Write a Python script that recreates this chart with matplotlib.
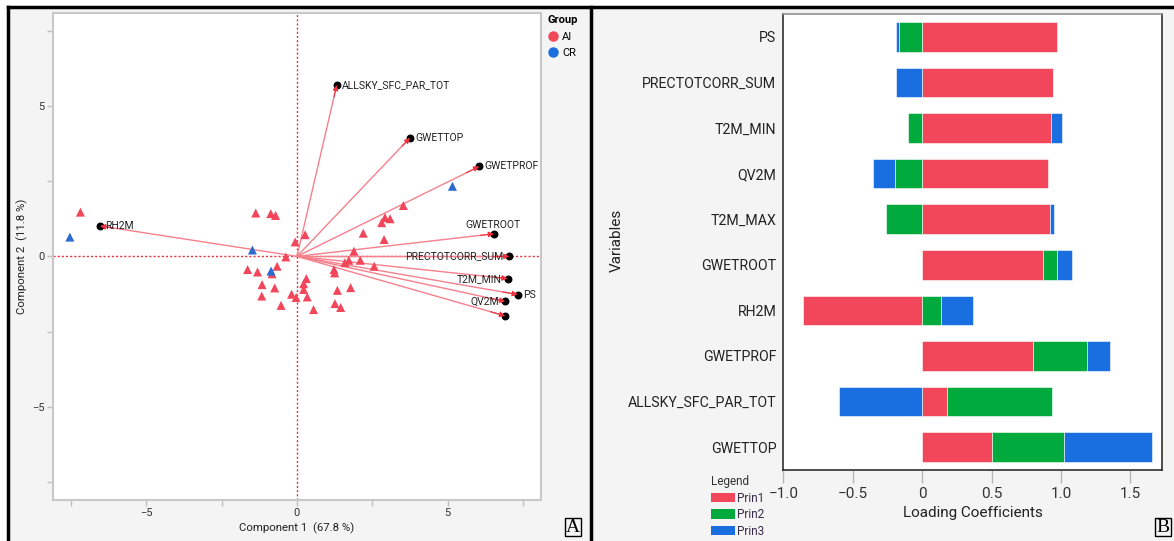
import numpy as np
import matplotlib
matplotlib.use("Agg")
import matplotlib.pyplot as plt
from matplotlib.lines import Line2D
from matplotlib.patches import Patch, Rectangle

plt.rcParams['font.family'] = ['Roboto', 'DejaVu Sans']

# ---- panel A: PCA biplot ----
ai_x = [-7.19, -1.37, -0.87, -0.71, 0.27, -0.06, -0.37, -1.64, -1.31, -0.83,
        -0.66, -1.16, -0.74, -1.17, -0.53, -0.18, -0.03, 0.31, 0.22, 0.22,
        0.34, 0.55, 1.23, 1.25, 1.34, 1.78, 1.26, 1.45, 1.89, 1.72,
        1.59, 2.10, 2.56, 2.20, 2.89, 2.81, 2.92, 3.09, 3.53]
ai_y = [1.47, 1.44, 1.42, 1.36, 0.72, 0.48, -0.02, -0.44, -0.52, -0.58,
        -0.33, -0.94, -1.05, -1.32, -1.63, -1.26, -1.37, -0.74, -0.91, -1.10,
        -1.35, -1.77, -0.44, -0.55, -1.13, -1.04, -1.57, -1.70, 0.17, -0.13,
        -0.21, -0.13, -0.33, 0.77, 0.56, 1.12, 1.29, 1.25, 1.69]
cr_x = [-7.54, -1.48, -0.86, 5.16]
cr_y = [0.64, 0.21, -0.49, 2.33]

vec_names = ['ALLSKY_SFC_PAR_TOT', 'GWETTOP', 'GWETPROF', 'GWETROOT',
             'PRECTOTCORR_SUM', 'T2M_MIN', 'PS', 'QV2M', 'T2M_MAX', 'RH2M']
vec_x = [1.32, 3.75, 6.05, 6.54, 7.05, 6.99, 7.33, 6.91, 6.91, -6.54]
vec_y = [5.70, 3.94, 2.99, 0.75, 0.00, -0.74, -1.27, -1.50, -1.98, 1.01]
# where each name sits relative to its arrow tip ('' = not shown)
vec_side = ['right', 'right', 'right', 'above', 'left', 'left', 'right', 'left', '', 'right']

# ---- panel B: loadings ----
variables = ['PS', 'PRECTOTCORR_SUM', 'T2M_MIN', 'QV2M', 'T2M_MAX',
             'GWETROOT', 'RH2M', 'GWETPROF', 'ALLSKY_SFC_PAR_TOT', 'GWETTOP']
prin1 = [0.97, 0.94, 0.93, 0.91, 0.92, 0.87, -0.86, 0.80, 0.18, 0.50]
prin2 = [-0.165, 0.0, -0.10, -0.195, -0.26, 0.10, 0.135, 0.39, 0.755, 0.525]
prin3 = [-0.02, -0.19, 0.08, -0.16, 0.03, 0.11, 0.235, 0.16, -0.60, 0.63]

RED = '#f2465a'
GREEN = '#00aa3c'
BLUE = '#1a6fe0'
BG = '#f4f4f4'

W, H = 1174, 541
fig = plt.figure(figsize=(W / 100, H / 100), dpi=100)
fig.patch.set_facecolor('white')

# gray background + black frame
fig.add_artist(Rectangle((8 / W, 0), 1 - 8 / W, 1 - 7 / H, transform=fig.transFigure,
                         fc=BG, ec='none', zorder=-10))
fig.add_artist(Line2D([8 / W, 8 / W], [0, 1 - 7 / H], transform=fig.transFigure, color='black', lw=2.5))
fig.add_artist(Line2D([8 / W, 1], [1 - 7 / H, 1 - 7 / H], transform=fig.transFigure, color='black', lw=2.5))
fig.add_artist(Line2D([591 / W, 591 / W], [0, 1 - 7 / H], transform=fig.transFigure, color='black', lw=2.5))

# ===== A =====
ax = fig.add_axes([53 / W, 41 / H, 488 / W, 487.3 / H])
ax.set_facecolor('white')
ax.set_xlim(-8.1, 8.1)
ax.set_ylim(-8.1, 8.1)
for s in ax.spines.values():
    s.set_color('#c8c8c8')
    s.set_linewidth(1.5)
ax.set_xticks([-5, 0, 5])
ax.set_yticks([-5, 0, 5])
ax.set_xticks([-7.5, -2.5, 2.5, 7.5], minor=True)
ax.set_yticks([-7.5, -2.5, 2.5, 7.5], minor=True)
ax.set_xticklabels(['\u22125', '0', '5'])
ax.set_yticklabels(['\u22125', '0', '5'])
ax.tick_params(which='both', length=4, width=1, color='#c0c0c0', labelsize=8, labelcolor='#333333', pad=2)

ax.axhline(0, color='#e8303f', ls=(0, (1.5, 1.5)), lw=1, zorder=1)
ax.axvline(0, color='#e8303f', ls=(0, (1.5, 1.5)), lw=1, zorder=1)

ax.scatter(ai_x, ai_y, marker='^', s=42, color=RED, edgecolors='none', zorder=3)
ax.scatter(cr_x, cr_y, marker='^', s=42, color='#2a6bd0', edgecolors='none', zorder=3)

for name, vx, vy, side in zip(vec_names, vec_x, vec_y, vec_side):
    ax.plot([0, vx], [0, vy], color='#f6808c', lw=1.0, zorder=2)
    ax.scatter([vx], [vy], s=22, color='black', zorder=4)
    ax.annotate('', xy=(vx, vy), xytext=(vx * 0.93, vy * 0.93),
                arrowprops=dict(arrowstyle='-|>', color='#f0303f', lw=0.8,
                                mutation_scale=8, shrinkA=0, shrinkB=0), zorder=5)
    if side == 'right':
        ax.annotate(name, (vx, vy), xytext=(4, 0), textcoords='offset points',
                    ha='left', va='center', fontsize=7.5, color='#222222', zorder=6)
    elif side == 'left':
        ax.annotate(name, (vx, vy), xytext=(-4, 0), textcoords='offset points',
                    ha='right', va='center', fontsize=7.5, color='#222222', zorder=6)
    elif side == 'above':
        ax.annotate(name, (vx, vy), xytext=(-1, 3), textcoords='offset points',
                    ha='center', va='bottom', fontsize=7.5, color='#222222', zorder=6)

ax.set_xlabel('Component 1  (67.8 %)', fontsize=8.2, color='#222222', labelpad=3)
ax.set_ylabel('Component 2  (11.8 %)', fontsize=8.2, color='#222222', labelpad=3)

grp = [Line2D([], [], marker='o', ls='none', color=RED, markersize=6.5, label='AI'),
       Line2D([], [], marker='o', ls='none', color=BLUE, markersize=6.5, label='CR')]
leg = fig.legend(handles=grp, title='Group', loc='upper left', bbox_to_anchor=(543 / W, 1 - 11 / H),
                 frameon=False, fontsize=8, title_fontsize=8, handletextpad=0.3,
                 handlelength=1.0, labelspacing=0.55, borderaxespad=0)
leg.get_title().set_fontweight('bold')
leg._legend_box.align = 'left'

fig.text(573 / W, 1 - 527 / H, 'A', fontsize=14, family='Liberation Serif', ha='center', va='center',
         bbox=dict(boxstyle='square,pad=0.05', fc=BG, ec='black', lw=1))

# ===== B =====
bx = fig.add_axes([783.3 / W, 71 / H, 379 / W, 456 / H])
bx.set_facecolor('white')
ypos = np.arange(len(variables))
pos_left = np.zeros(len(variables))
neg_left = np.zeros(len(variables))
for vals, col, lab in [(prin1, RED, 'Prin1'), (prin2, GREEN, 'Prin2'), (prin3, BLUE, 'Prin3')]:
    vals = np.array(vals)
    start = np.where(vals >= 0, pos_left, neg_left)
    bx.barh(ypos, vals, left=start, height=0.65, color=col, edgecolor='#ffffff', linewidth=0.4, label=lab)
    pos_left = pos_left + np.where(vals >= 0, vals, 0)
    neg_left = neg_left + np.where(vals < 0, vals, 0)

bx.set_ylim(len(variables) - 0.5, -0.5)
bx.set_xlim(-1.0, 1.73)
bx.set_yticks(ypos)
bx.set_yticklabels(variables)
bx.set_xticks([-1.0, -0.5, 0, 0.5, 1.0, 1.5])
bx.set_xticklabels(['\u22121.0', '\u22120.5', '0', '0.5', '1.0', '1.5'])
bx.tick_params(axis='y', length=0, labelsize=10.2, labelcolor='#222222', pad=5)
bx.tick_params(axis='x', length=9, width=1, color='#b8b8b8', labelsize=11, labelcolor='#333333', pad=3)
for s in bx.spines.values():
    s.set_color('#303030')
    s.set_linewidth(1.2)
bx.spines['top'].set_color('#909090')
bx.set_xlabel('Loading Coefficients', fontsize=11, color='#222222', labelpad=4)
fig.text(617 / W, 1 - 240 / H, 'Variables', rotation=90, fontsize=11, color='#222222',
         ha='center', va='center')

patches = [Patch(fc=c, ec='none') for c in (RED, GREEN, BLUE)]
leg2 = fig.legend(patches, ['Prin1', 'Prin2', 'Prin3'], title='Legend', loc='upper left',
                  bbox_to_anchor=(711 / W, 1 - 475 / H), frameon=False, fontsize=8.5,
                  title_fontsize=8.5, handlelength=2.0, handleheight=0.9, handletextpad=0.2,
                  labelspacing=0.3, borderaxespad=0, borderpad=0)
leg2._legend_box.align = 'left'
leg2.get_title().set_color('#333333')
for t in leg2.get_texts():
    t.set_color('#3a2a4a')

fig.text(1163 / W, 1 - 527 / H, 'B', fontsize=14, family='Liberation Serif', ha='center', va='center',
         bbox=dict(boxstyle='square,pad=0.05', fc=BG, ec='black', lw=1))

fig.savefig('out.png', dpi=100)
